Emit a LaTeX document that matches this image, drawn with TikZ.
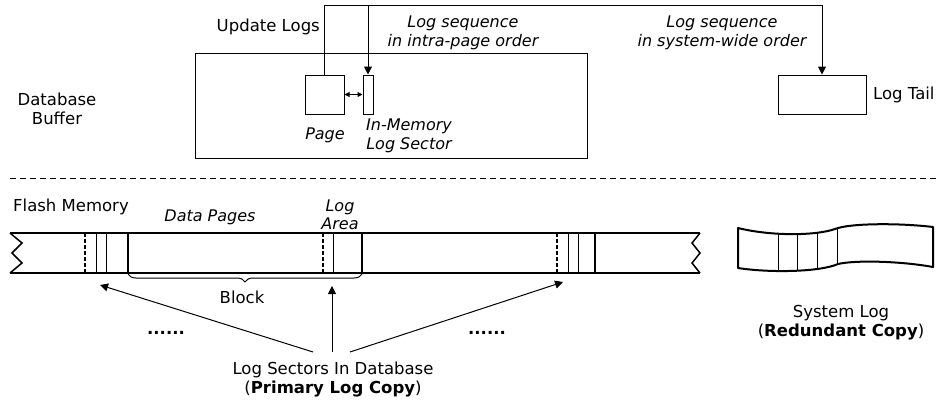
\documentclass[tikz,border=0pt]{standalone}
\usepackage{fontspec}
\setmainfont{DejaVu Sans}
\usetikzlibrary{arrows.meta,decorations.pathreplacing}
\tikzset{
  lbl/.style={font=\fontsize{16.5}{19}\selectfont, inner sep=0pt, align=center},
  itlbl/.style={font=\itshape\fontsize{16}{18.5}\selectfont, inner sep=0pt, align=center},
  box/.style={draw, line width=1pt, inner sep=0pt},
  arr/.style={-{Triangle[length=8pt,width=8pt]}, line width=1pt},
  strip/.style={line width=2pt},
}
\newcommand{\tapeshape}{(738,228) .. controls (770,236) and (815,236) .. (835,229)
  .. controls (850,223) and (900,223) .. (933,227) -- (933,267)
  .. controls (900,261) and (855,260) .. (838,264)
  .. controls (820,272) and (770,273) .. (738,268) -- cycle}
\begin{document}
\begin{tikzpicture}[x=1pt,y=-1pt]
\useasboundingbox (0,0) rectangle (940,407);
% database buffer
\node[box, minimum width=392pt, minimum height=105pt] (buffer) at (391,105.5) {};
\node[lbl] (dbbuf) at (57,109) {Database\\Buffer};
\node[box, minimum width=39pt, minimum height=39pt] (page) at (324.5,94.5) {};
\node[box, minimum width=10pt, minimum height=39pt] (sector) at (368,94.5) {};
\node[box, minimum width=88pt, minimum height=39pt] (tail) at (822,94.5) {};
\node[itlbl] (pagelbl) at (325,135) {Page};
\node[itlbl] (sectorlbl) at (409,136) {In-Memory\\Log Sector};
\node[lbl, anchor=west] (taillbl) at (873,95) {Log Tail};
\node[lbl, anchor=east] (updlbl) at (320,27) {Update Logs};
\node[itlbl] (intra) at (463,33) {Log sequence\\in intra-page order};
\node[itlbl] (syswide) at (722,33) {Log sequence\\in system-wide order};
\coordinate (top) at (0,5);
\draw[arr] (page.north) |- (top -| tail.north) -- (tail.north);
\draw[arr] (top -| sector.north) -- (sector.north);
\draw[{Triangle[length=5pt,width=5pt]}-{Triangle[length=5pt,width=5pt]}, line width=1pt] (page.east) -- (sector.west);
% separator
\draw[dash pattern=on 6pt off 4pt, line width=0.8pt] (10,178) -- (940,178);
% flash memory
\node[lbl, anchor=west] (flash) at (13,207) {Flash Memory};
\node[itlbl] (datapages) at (210,217) {Data Pages};
\node[itlbl] (logarea) at (340,215) {Log\\Area};
\draw[strip] (10,233) -- (700,233);
\draw[strip] (10,273) -- (700,273);
\draw[line width=1.5pt] (10,233) -- (22,243) -- (12,253) -- (22,263) -- (10,273);
\draw[line width=1.5pt] (700,233) -- (692,243) -- (700,253) -- (692,263) -- (700,273);
\foreach \d/\e in {85/128, 323/362, 557/595} {
  \draw[line width=2pt, dash pattern=on 4pt off 2pt] (\d,233) -- (\d,273);
  \draw[line width=2pt] (\e,233) -- (\e,273);
}
\foreach \x in {96,106,333,568,578}
  \draw[line width=1pt] (\x,233) -- (\x,273);
\draw[decorate, decoration={brace, mirror, amplitude=8pt}, line width=1pt] (128,274) -- (362,274);
\node[lbl] (block) at (242,297) {Block};
% log sectors
\node[lbl] (lsd) at (333,380) {Log Sectors In Database\\(\textbf{Primary Log Copy})};
\coordinate (s1) at (313,352);
\coordinate (s2) at (332,352);
\coordinate (s3) at (350,352);
\coordinate (t1) at (100,285);
\coordinate (t2) at (332,286);
\coordinate (t3) at (563,282);
\draw[arr] (s1) -- (t1);
\draw[arr] (s2) -- (t2);
\draw[arr] (s3) -- (t3);
\node[lbl] (dots1) at (166,333) {\textbf{......}};
\node[lbl] (dots2) at (487,333) {\textbf{......}};
% system log
\begin{scope}
  \clip \tapeshape;
  \foreach \x in {778,797,817,837}
    \draw[line width=1pt] (\x,200) -- (\x,300);
\end{scope}
\draw[line width=2pt, line join=round] \tapeshape;
\node[lbl] (syslog) at (841,323) {System Log\\(\textbf{Redundant Copy})};
\end{tikzpicture}
\end{document}
